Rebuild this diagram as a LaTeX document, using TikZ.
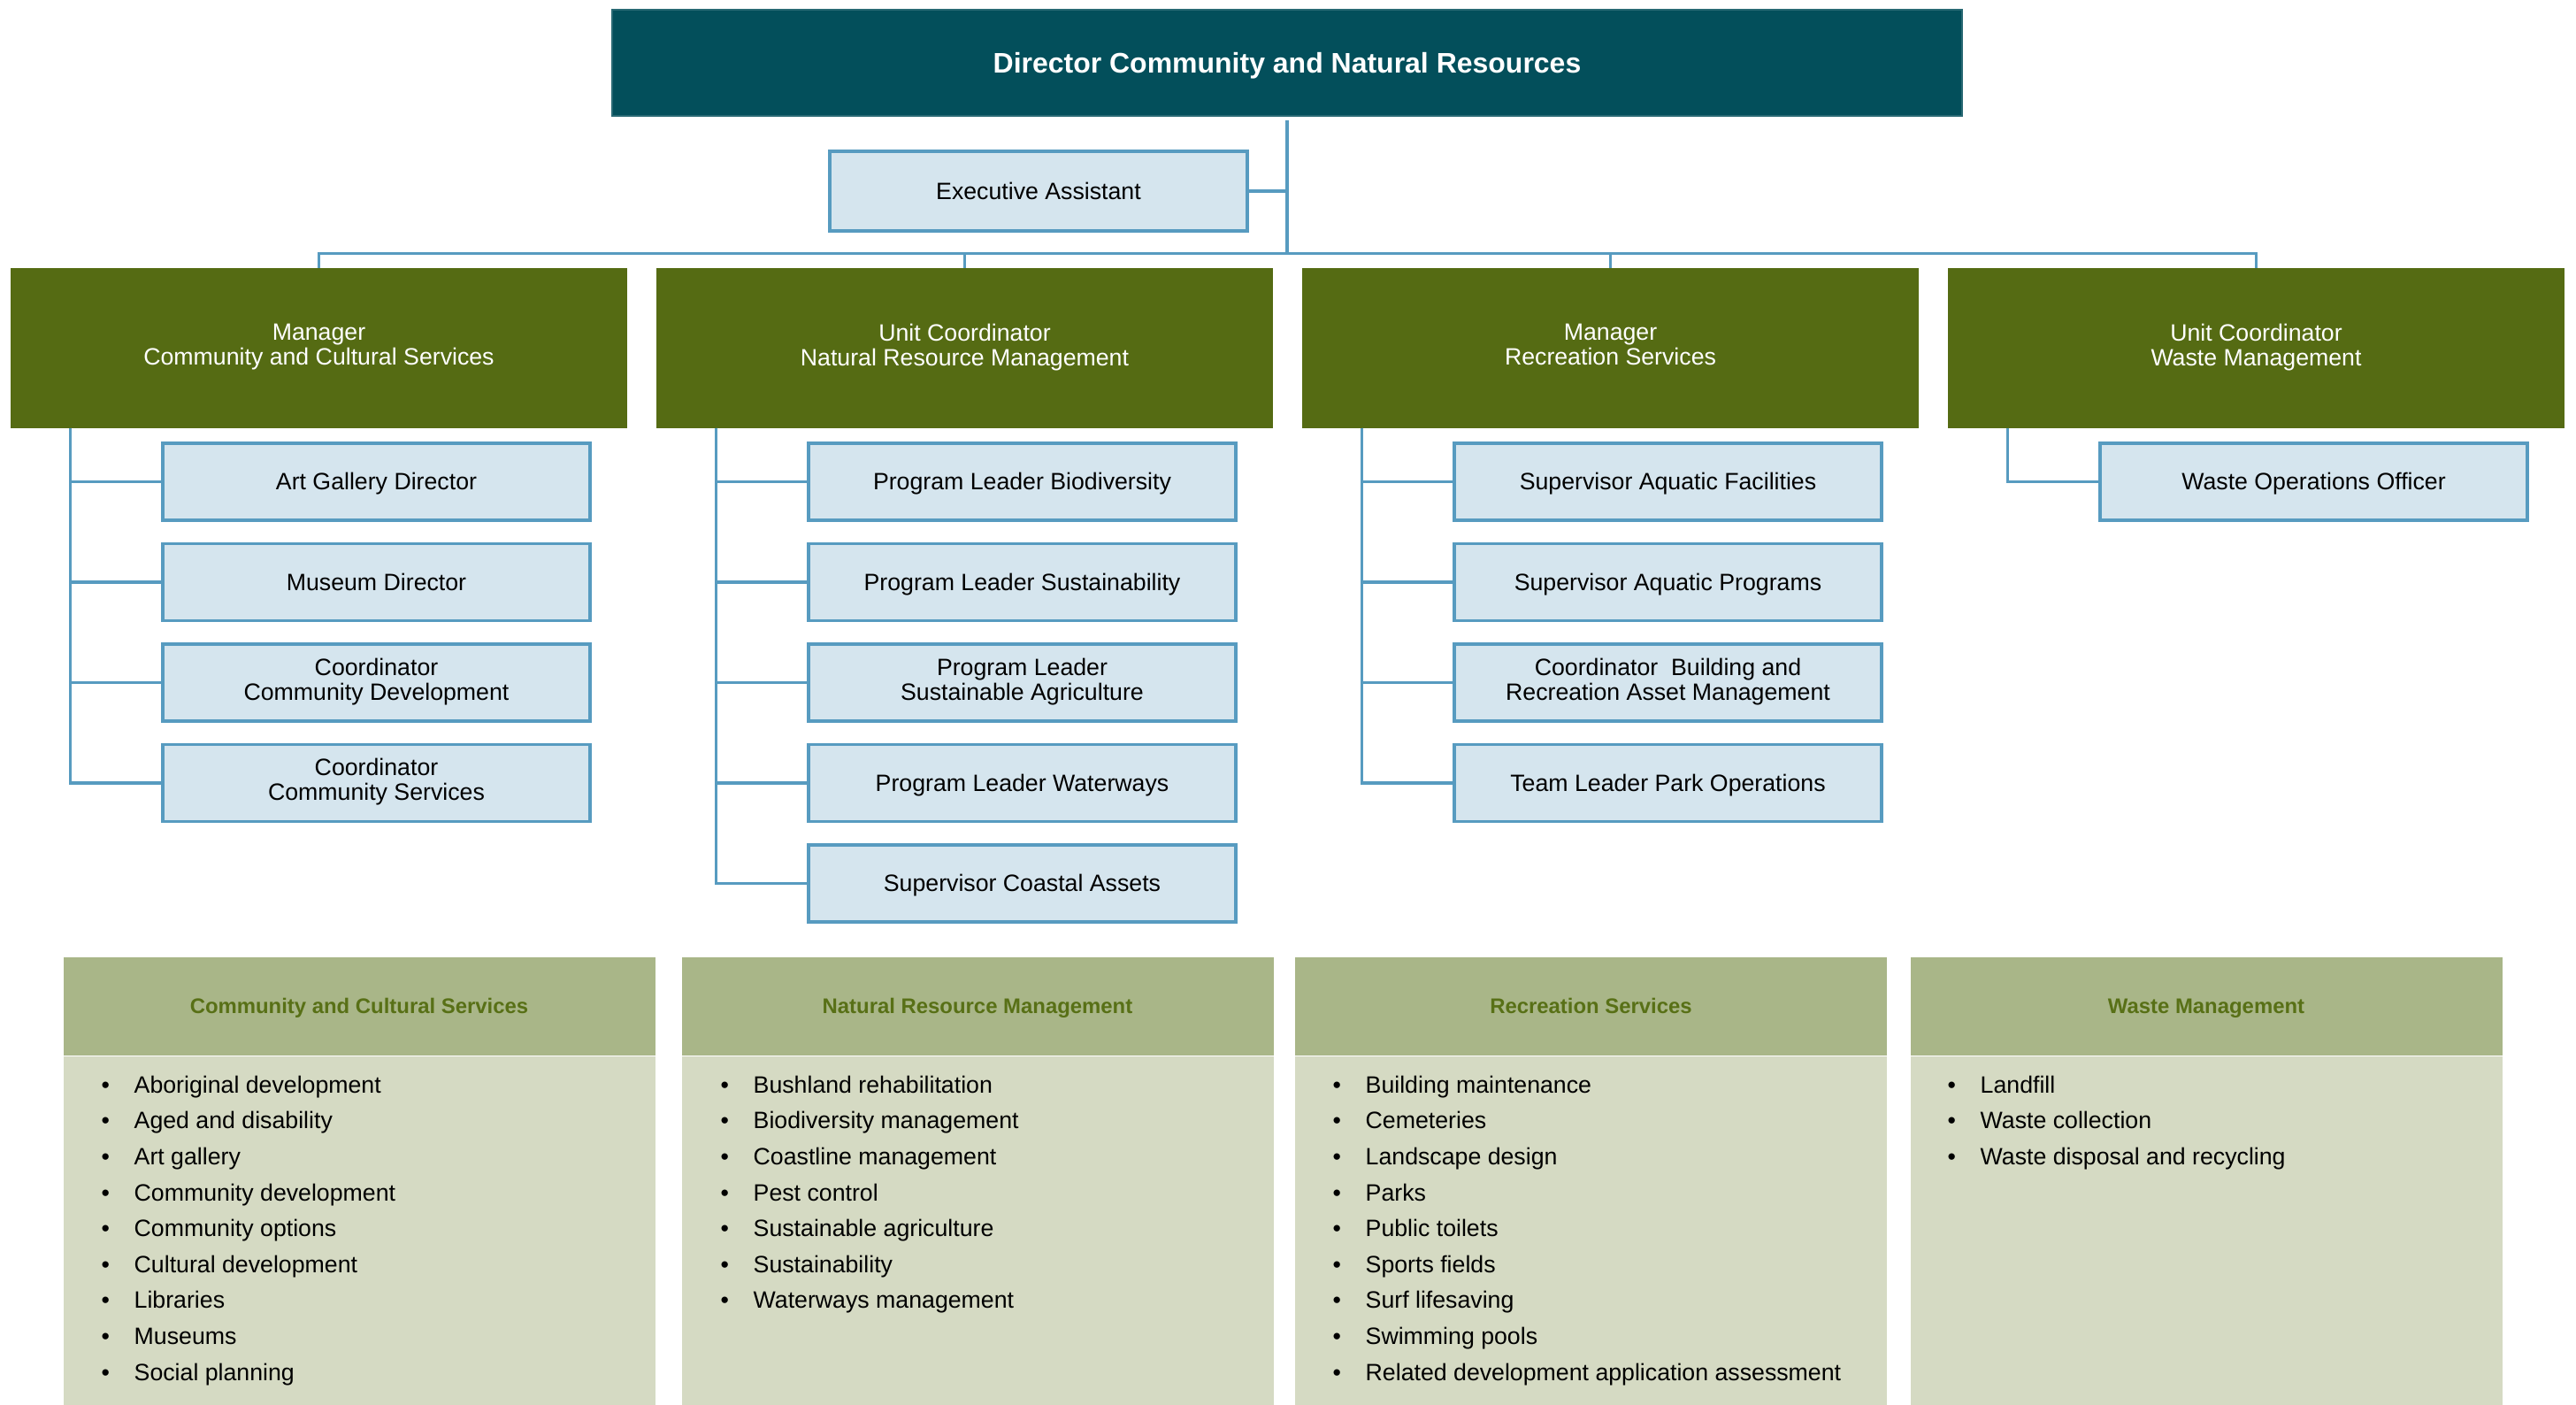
\documentclass[tikz,border=0pt]{standalone}
\usepackage{fontspec}
\setmainfont{Liberation Sans}
\usepackage{tikz}

\definecolor{dirteal}{RGB}{3,79,91}
\definecolor{mgrgreen}{RGB}{85,107,19}
\definecolor{boxblue}{RGB}{213,229,238}
\definecolor{lineblue}{RGB}{87,155,192}
\definecolor{headolive}{RGB}{169,182,136}
\definecolor{bodyolive}{RGB}{213,218,195}
\definecolor{headtext}{RGB}{88,112,22}

\newcommand{\litem}[1]{\makebox[0.37cm][l]{\textbullet}#1}

\begin{document}
\begin{tikzpicture}[
        even/.style={execute at begin node={\rule{0pt}{1em}}, execute at end node={\rule[-0.3em]{0pt}{0pt}}},
        director/.style={even, draw=dirteal!85!white, fill=dirteal, text=white, font=\fontsize{9.1}{11}\selectfont\bfseries, minimum width=15.26cm, minimum height=1.2cm},
        manager/.style={even, draw=mgrgreen, fill=mgrgreen, text=white, align=center, font=\fontsize{7.6}{8}\selectfont, minimum width=6.95cm, minimum height=1.79cm},
        staff/.style={even, draw=lineblue, fill=boxblue, line width=1pt, align=center, font=\fontsize{7.6}{8}\selectfont, minimum width=4.83cm, minimum height=0.87cm},
        link/.style={lineblue, line width=0.9pt},
        panelhead/.style={even, fill=headolive, text=headtext, font=\fontsize{6.8}{8}\selectfont\bfseries, minimum width=6.69cm, minimum height=1.11cm, inner sep=0pt},
        panelbody/.style={fill=bodyolive, minimum width=6.69cm, minimum height=3.95cm, inner sep=0pt, anchor=north},
        item/.style={execute at begin node=\strut, anchor=west, font=\fontsize{7.6}{9}\selectfont, inner sep=0pt}
    ]
        \useasboundingbox (0,0) rectangle (29.12,-15.88);

        % director and assistant
        \node[director] (dir) at (14.55,-0.71) {Director Community and Natural Resources};
        \node[staff, minimum width=4.72cm, minimum height=0.9cm] (ea) at (11.74,-2.16) {Executive Assistant};

        % managers
        \node[manager] (ccs) at (3.605,-3.935) {Manager\\Community and Cultural Services};
        \node[manager] (nrm) at (10.905,-3.935) {Unit Coordinator\\Natural Resource Management};
        \node[manager] (rec) at (18.205,-3.935) {Manager\\Recreation Services};
        \node[manager] (wst) at (25.505,-3.935) {Unit Coordinator\\Waste Management};

        \draw[link] ([yshift=-0.04cm]dir.south) -- ++(0,-1.51) coordinate (bus);
        \draw[link] (ea.east) -- (ea.east -| bus);
        \foreach \m in {ccs,nrm,rec,wst}
            \draw[link] (bus) -| (\m.north);

        % staff under each manager
        \node[staff] (ccs1) at (4.255,-5.445) {Art Gallery Director};
        \node[staff] (ccs2) at (4.255,-6.58) {Museum Director};
        \node[staff] (ccs3) at (4.255,-7.715) {Coordinator\\Community Development};
        \node[staff] (ccs4) at (4.255,-8.85) {Coordinator\\Community Services};

        \node[staff] (nrm1) at (11.555,-5.445) {Program Leader Biodiversity};
        \node[staff] (nrm2) at (11.555,-6.58) {Program Leader Sustainability};
        \node[staff] (nrm3) at (11.555,-7.715) {Program Leader\\Sustainable Agriculture};
        \node[staff] (nrm4) at (11.555,-8.85) {Program Leader Waterways};
        \node[staff] (nrm5) at (11.555,-9.985) {Supervisor Coastal Assets};

        \node[staff] (rec1) at (18.855,-5.445) {Supervisor Aquatic Facilities};
        \node[staff] (rec2) at (18.855,-6.58) {Supervisor Aquatic Programs};
        \node[staff] (rec3) at (18.855,-7.715) {Coordinator\ \ Building and\\Recreation Asset Management};
        \node[staff] (rec4) at (18.855,-8.85) {Team Leader Park Operations};

        \node[staff] (wst1) at (26.155,-5.445) {Waste Operations Officer};

        \foreach \m/\n in {ccs/4,nrm/5,rec/4,wst/1} {
            \coordinate (\m t) at ([xshift=0.67cm]\m.south west);
            \foreach \i in {1,...,\n}
                \draw[link] (\m t) |- (\m\i.west);
        }

        % function panels
        \node[panelhead] (ccshead) at (4.06,-11.375) {Community and Cultural Services};
        \node[panelhead] (nrmhead) at (11.05,-11.375) {Natural Resource Management};
        \node[panelhead] (rechead) at (17.985,-11.375) {Recreation Services};
        \node[panelhead] (wsthead) at (24.94,-11.375) {Waste Management};
        \foreach \m in {ccs,nrm,rec,wst}
            \node[panelbody] (\m body) at (\m head.south) {};

        \foreach \t [count=\i] in {Aboriginal development, Aged and disability, Art gallery, Community development, Community options, Cultural development, Libraries, Museums, Social planning}
            \node[item] (ccsi\i) at (1.14,{-12.29-0.406*(\i-1)}) {\litem{\t}};
        \foreach \t [count=\i] in {Bushland rehabilitation, Biodiversity management, Coastline management, Pest control, Sustainable agriculture, Sustainability, Waterways management}
            \node[item] (nrmi\i) at (8.14,{-12.29-0.406*(\i-1)}) {\litem{\t}};
        \foreach \t [count=\i] in {Building maintenance, Cemeteries, Landscape design, Parks, Public toilets, Sports fields, Surf lifesaving, Swimming pools, Related development application assessment}
            \node[item] (reci\i) at (15.06,{-12.29-0.406*(\i-1)}) {\litem{\t}};
        \foreach \t [count=\i] in {Landfill, Waste collection, Waste disposal and recycling}
            \node[item] (wsti\i) at (22.01,{-12.29-0.406*(\i-1)}) {\litem{\t}};
    \end{tikzpicture}
\end{document}
